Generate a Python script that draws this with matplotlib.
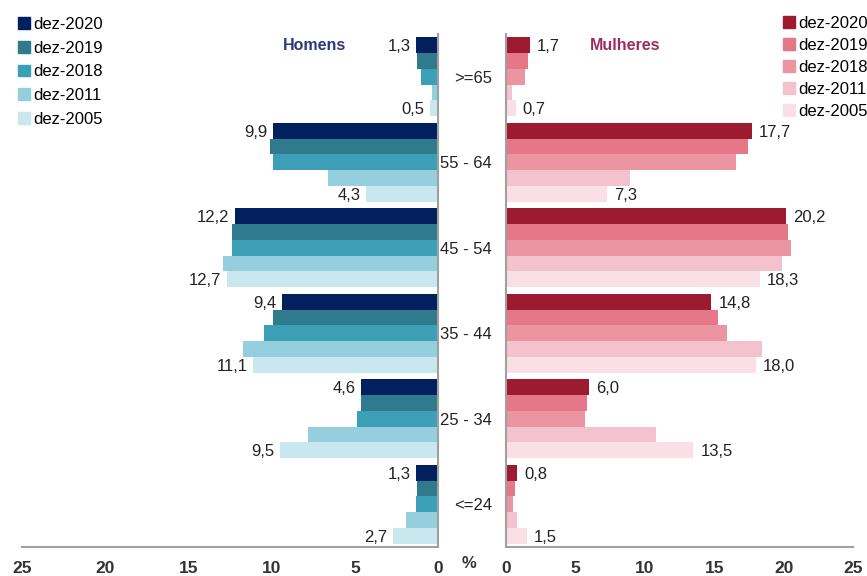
import matplotlib
matplotlib.use("Agg")
import matplotlib.pyplot as plt
from matplotlib.patches import Patch
import numpy as np

plt.rcParams["font.family"] = ["Liberation Sans", "DejaVu Sans"]

age_groups = [">=65", "55 - 64", "45 - 54", "35 - 44", "25 - 34", "<=24"]
periods = ["dez-2020", "dez-2019", "dez-2018", "dez-2011", "dez-2005"]

homens = {
    "dez-2020": [1.3, 9.9, 12.2, 9.4, 4.6, 1.3],
    "dez-2019": [1.25, 10.1, 12.35, 9.9, 4.6, 1.25],
    "dez-2018": [1.05, 9.9, 12.35, 10.45, 4.85, 1.3],
    "dez-2011": [0.35, 6.6, 12.9, 11.7, 7.8, 1.9],
    "dez-2005": [0.5, 4.3, 12.7, 11.1, 9.5, 2.7],
}
mulheres = {
    "dez-2020": [1.7, 17.7, 20.2, 14.8, 6.0, 0.8],
    "dez-2019": [1.55, 17.4, 20.35, 15.25, 5.8, 0.65],
    "dez-2018": [1.35, 16.6, 20.5, 15.9, 5.7, 0.5],
    "dez-2011": [0.45, 8.9, 19.9, 18.45, 10.8, 0.8],
    "dez-2005": [0.7, 7.3, 18.3, 18.0, 13.5, 1.5],
}
labelled = ["dez-2020", "dez-2005"]

blues = ["#03205e", "#2f7a8c", "#3c9fb6", "#95cfdd", "#c9e7ef"]
reds = ["#9d1b30", "#e67789", "#eb95a3", "#f4c2cc", "#fae0e6"]

W, H = 867, 576
fig = plt.figure(figsize=(W / 100, H / 100), dpi=100)

def frac(x0, y0, x1, y1):
    return [x0 / W, 1 - y1 / H, (x1 - x0) / W, (y1 - y0) / H]

ax_h = fig.add_axes(frac(22, 34, 438, 547))
ax_m = fig.add_axes(frac(506, 34, 853, 547))

n_groups = len(age_groups)
bar_h = 0.184
gap = 1 - 5 * bar_h
centers = np.arange(n_groups)
txt = "#222222"

def fmt(v):
    return f"{v:.1f}".replace(".", ",")

def draw(ax, data, colors, side):
    for i, p in enumerate(periods):
        y = centers - 0.5 + gap / 2 + bar_h * (i + 0.5)
        ax.barh(y, data[p], height=bar_h, color=colors[i], edgecolor="none")
        if p in labelled:
            for yy, v in zip(y, data[p]):
                if side == "left":
                    ax.annotate(fmt(v), (v, yy), xytext=(-4, 0), textcoords="offset points",
                                ha="right", va="center_baseline", fontsize=12, color=txt)
                else:
                    ax.annotate(fmt(v), (v, yy), xytext=(5, 0), textcoords="offset points",
                                ha="left", va="center_baseline", fontsize=12, color=txt)
    ax.set_ylim(n_groups - 0.5, -0.5)
    ax.set_xlim(0, 25)
    ax.set_xticks([0, 5, 10, 15, 20, 25])
    ax.set_yticks([])
    for s in ax.spines.values():
        s.set_visible(False)
    ax.spines["bottom"].set_visible(True)
    ax.spines["bottom"].set_color("#a0a0a0")
    ax.spines["bottom"].set_linewidth(1.5)
    ax.tick_params(axis="x", length=0, pad=10, labelsize=12.5, labelcolor="#333333")
    for t in ax.get_xticklabels():
        t.set_fontweight("bold")

draw(ax_h, homens, blues, "left")
draw(ax_m, mulheres, reds, "right")
ax_h.invert_xaxis()
ax_h.spines["right"].set_visible(True)
ax_h.spines["right"].set_color("#a0a0a0")
ax_h.spines["right"].set_linewidth(1.5)
ax_m.spines["left"].set_visible(True)
ax_m.spines["left"].set_color("#a0a0a0")
ax_m.spines["left"].set_linewidth(1.5)

# age group labels in the central gap
for c, g in zip(centers, age_groups):
    ax_m.annotate(g, (0, c), xytext=(-10, 0), textcoords="offset points",
                  ha="right", va="center_baseline", fontsize=12, color=txt)

fig.text(469 / W, 1 - 563 / H, "%", ha="center", va="center", fontsize=12,
         fontweight="bold", color="#333333")
fig.text(315 / W, 1 - 46 / H, "Homens", ha="center", va="center", fontsize=11.5,
         fontweight="bold", color="#2b3a7a")
fig.text(625 / W, 1 - 46 / H, "Mulheres", ha="center", va="center", fontsize=11.5,
         fontweight="bold", color="#9e2c5e")

leg_kw = dict(frameon=False, fontsize=12, handlelength=0.7, handleheight=0.7,
              handletextpad=0.2, borderpad=0, borderaxespad=0)
h_handles = [Patch(color=c) for c in blues]
fig.legend(h_handles, periods, loc="upper left", bbox_to_anchor=(18 / W, 1 - 17 / H),
           labelspacing=0.52, **leg_kw)
m_handles = [Patch(color=c) for c in reds]
fig.legend(m_handles, periods, loc="upper left", bbox_to_anchor=(783 / W, 1 - 16 / H),
           labelspacing=0.42, **leg_kw)

fig.savefig("out.png", dpi=100)
